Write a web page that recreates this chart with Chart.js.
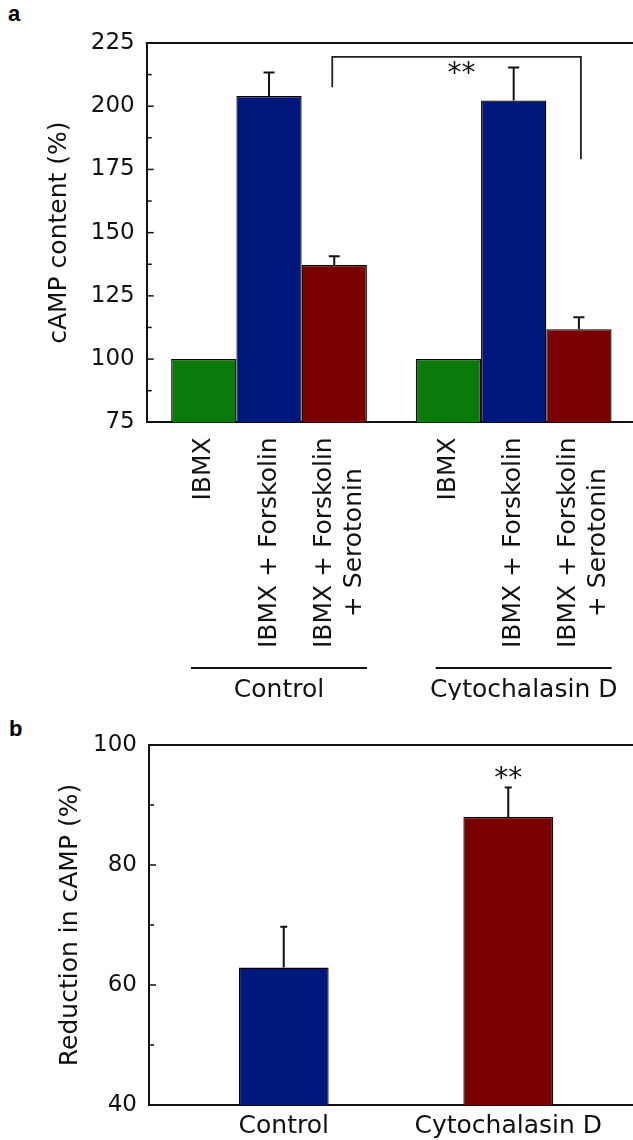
<!DOCTYPE html>
<html><head><meta charset="utf-8">
<script src="https://cdn.jsdelivr.net/npm/chart.js@4.4.1/dist/chart.umd.min.js"></script>
<style>
html,body{margin:0;padding:0;background:#fff;overflow:hidden;width:633px;height:1140px;}
#cA{position:absolute;left:0;top:0;}
#cB{position:absolute;left:0;top:700px;}
.panel{position:absolute;font-family:"Liberation Sans",Arial,sans-serif;font-weight:bold;font-size:22px;line-height:22px;color:#000;}
</style></head><body>
<div class="panel" style="left:8px;top:3px">a</div>
<div class="panel" style="left:9px;top:718px">b</div>
<canvas id="cA" width="640" height="700"></canvas>
<canvas id="cB" width="650" height="440"></canvas>
<script>
// ---------- Panel a data ----------
const groupsA = ['Control', 'Cytochalasin D'];
const treatmentsA = [['IBMX'], ['IBMX + Forskolin'], ['IBMX + Forskolin', '+ Serotonin']];
const ibmx = [100, 100];
const ibmxFsk = [204, 202.3];
const ibmxFskSer = [137.2, 111.8];
const errIbmx = [0, 0];
const errIbmxFsk = [9.3, 13];
const errIbmxFskSer = [3.5, 4.7];
const yTicksA = [75, 225, 25, 12.5];          // min, max, major step, minor step
const bracketA = [207.5, 219.5, 179];           // left end, top, right end (values)
const starsA = ['**', 214.4];
const yTitleA = 'cAMP content (%)';

// ---------- Panel b data ----------
const groupsB = ['Control', 'Cytochalasin D'];
const reduction = [62.9, 88];
const errReduction = [6.8, 4.9];
const yTicksB = [40, 100, 20, 10];
const starsB = ['**', 95];
const yTitleB = 'Reduction in cAMP (%)';

const GREEN = '#0a7b0a', BLUE = '#00187e', RED = '#7b0000', INK = '#111';
const FONT = '"DejaVu Sans", Verdana, sans-serif';

function innerTicks(chart, t) {
  const {ctx, chartArea: ca, scales: {y}} = chart;
  ctx.save(); ctx.strokeStyle = INK; ctx.lineWidth = 1.5;
  for (let v = t[0]; v <= t[1] + 1e-9; v += t[3]) {
    const r = (v - t[0]) / t[2];
    const major = Math.abs(r - Math.round(r)) < 1e-6;
    const py = y.getPixelForValue(v);
    ctx.beginPath(); ctx.moveTo(ca.left, py); ctx.lineTo(ca.left + (major ? 7 : 5), py); ctx.stroke();
  }
  ctx.restore();
}
function topBorder(chart) {
  const {ctx, chartArea: ca} = chart;
  ctx.save(); ctx.strokeStyle = INK; ctx.lineWidth = 2;
  ctx.beginPath(); ctx.moveTo(ca.left - 1, ca.top); ctx.lineTo(chart.width, ca.top); ctx.stroke();
  ctx.restore();
}
function errorBar(ctx, x, yTop, yEnd, cap) {
  ctx.beginPath(); ctx.moveTo(x, yTop); ctx.lineTo(x, yEnd);
  ctx.moveTo(x - cap / 2, yEnd); ctx.lineTo(x + cap / 2, yEnd); ctx.stroke();
}

const valsA = [ibmx, ibmxFsk, ibmxFskSer];
const errsA = [errIbmx, errIbmxFsk, errIbmxFskSer];

const pluginA = {
  id: 'pA',
  afterDatasetsDraw(chart) {
    const {ctx, chartArea: ca, scales: {x, y}} = chart;
    topBorder(chart);
    innerTicks(chart, yTicksA);
    ctx.save(); ctx.strokeStyle = INK; ctx.lineWidth = 2;
    errsA.forEach((arr, di) => {
      const meta = chart.getDatasetMeta(di);
      arr.forEach((e, i) => {
        if (!e) return;
        const b = meta.data[i];
        errorBar(ctx, b.x, y.getPixelForValue(valsA[di][i]), y.getPixelForValue(valsA[di][i] + e), 11);
      });
    });
    // significance bracket between the two serotonin bars
    const m = chart.getDatasetMeta(2);
    const xl = m.data[0].x - 2, xr = m.data[1].x + 2;
    ctx.lineWidth = 1.8; ctx.strokeStyle = '#222';
    ctx.beginPath();
    ctx.moveTo(xl, y.getPixelForValue(bracketA[0]));
    ctx.lineTo(xl, y.getPixelForValue(bracketA[1]));
    ctx.lineTo(xr, y.getPixelForValue(bracketA[1]));
    ctx.lineTo(xr, y.getPixelForValue(bracketA[2]));
    ctx.stroke();
    ctx.fillStyle = INK; ctx.font = '28px ' + FONT; ctx.textAlign = 'center'; ctx.textBaseline = 'middle';
    ctx.fillText(starsA[0], (xl + xr) / 2 + 5, y.getPixelForValue(starsA[1]) + 5);
    ctx.restore();
  },
  afterDraw(chart) {
    const {ctx, chartArea: ca, scales: {x}} = chart;
    ctx.save();
    ctx.fillStyle = INK; ctx.font = '25px ' + FONT;
    ctx.textAlign = 'center'; ctx.textBaseline = 'middle';
    const lh = 30, topY = ca.bottom + 15;
    treatmentsA.forEach((lines, di) => {
      const meta = chart.getDatasetMeta(di);
      const maxW = Math.max(...lines.map(l => ctx.measureText(l).width));
      const n = lines.length, shift = n > 1 ? 5 : 0;
      meta.data.forEach(b => {
        lines.forEach((line, k) => {
          ctx.save();
          ctx.translate(b.x + (k - (n - 1) / 2) * lh + shift, topY + maxW / 2);
          ctx.rotate(-Math.PI / 2);
          ctx.fillText(line, 0, 0);
          ctx.restore();
        });
      });
    });
    // group labels with lines
    ctx.strokeStyle = INK; ctx.lineWidth = 1.8;
    groupsA.forEach((g, i) => {
      const cx = x.getPixelForValue(i) + 10;
      ctx.beginPath(); ctx.moveTo(cx - 88, 668); ctx.lineTo(cx + 88, 668); ctx.stroke();
      ctx.fillText(g, cx, 690);
    });
    ctx.restore();
  }
};

new Chart(document.getElementById('cA'), {
  type: 'bar',
  data: {
    labels: groupsA,
    datasets: [
      {label: treatmentsA[0].join(' '), data: ibmx, backgroundColor: GREEN},
      {label: treatmentsA[1].join(' '), data: ibmxFsk, backgroundColor: BLUE},
      {label: treatmentsA[2].join(' '), data: ibmxFskSer, backgroundColor: RED}
    ]
  },
  options: {
    responsive: false, animation: false, devicePixelRatio: 1,
    layout: {padding: {left: 0, top: 43, right: 4, bottom: 0}},
    datasets: {bar: {categoryPercentage: 0.8, barPercentage: 1.0, borderWidth: 1.3, borderColor: '#000', borderSkipped: false}},
    plugins: {legend: {display: false}, tooltip: {enabled: false}},
    scales: {
      x: {
        grid: {display: false, drawTicks: false},
        border: {display: true, color: INK, width: 2},
        ticks: {display: false},
        afterFit: s => { s.height = 700 - 422.3; }
      },
      y: {
        min: yTicksA[0], max: yTicksA[1],
        grid: {display: false, drawTicks: false},
        border: {display: true, color: INK, width: 2},
        ticks: {stepSize: yTicksA[2], color: INK, font: {family: FONT, size: 23}, padding: 12},
        title: {display: true, text: yTitleA, color: INK, font: {family: FONT, size: 25}, padding: {top: 44, bottom: 0}},
        afterFit: s => { s.width = 146.7; }
      }
    }
  },
  plugins: [pluginA]
});

// ---------- Panel b ----------
const pluginB = {
  id: 'pB',
  afterDatasetsDraw(chart) {
    const {ctx, scales: {y}} = chart;
    topBorder(chart);
    innerTicks(chart, yTicksB);
    const meta = chart.getDatasetMeta(0);
    ctx.save(); ctx.strokeStyle = INK; ctx.lineWidth = 2;
    errReduction.forEach((e, i) => {
      const b = meta.data[i];
      errorBar(ctx, b.x, y.getPixelForValue(reduction[i]), y.getPixelForValue(reduction[i] + e), 7);
    });
    ctx.fillStyle = INK; ctx.font = '28px ' + FONT; ctx.textAlign = 'center'; ctx.textBaseline = 'middle';
    ctx.fillText(starsB[0], meta.data[1].x, y.getPixelForValue(starsB[1]) + 5);
    ctx.restore();
  }
};

new Chart(document.getElementById('cB'), {
  type: 'bar',
  data: {
    datasets: [{
      label: yTitleB,
      data: reduction.map((v, i) => ({x: i + 1, y: v})),
      backgroundColor: [BLUE, RED]
    }]
  },
  options: {
    responsive: false, animation: false, devicePixelRatio: 1,
    layout: {padding: {left: 0, top: 45, right: 7, bottom: 0}},
    datasets: {bar: {categoryPercentage: 0.8, barPercentage: 0.5, borderWidth: 1.3, borderColor: '#000', borderSkipped: false}},
    plugins: {legend: {display: false}, tooltip: {enabled: false}},
    scales: {
      x: {
        type: 'linear', min: 0.4, max: 2.6, offset: false,
        grid: {display: false, drawTicks: false, offset: false},
        border: {display: true, color: INK, width: 2},
        afterBuildTicks: s => { s.ticks = groupsB.map((g, i) => ({value: i + 1})); },
        ticks: {autoSkip: false, maxRotation: 0, color: INK, font: {family: FONT, size: 25}, padding: 6,
                callback: v => groupsB[Math.round(v) - 1] || ''},
        afterFit: s => { s.height = 440 - 405; }
      },
      y: {
        min: yTicksB[0], max: yTicksB[1],
        grid: {display: false, drawTicks: false},
        border: {display: true, color: INK, width: 2},
        ticks: {stepSize: yTicksB[2], color: INK, font: {family: FONT, size: 23}, padding: 12},
        title: {display: true, text: yTitleB, color: INK, font: {family: FONT, size: 25}, padding: {top: 55, bottom: 0}},
        afterFit: s => { s.width = 149; }
      }
    }
  },
  plugins: [pluginB]
});
</script>
</body></html>
